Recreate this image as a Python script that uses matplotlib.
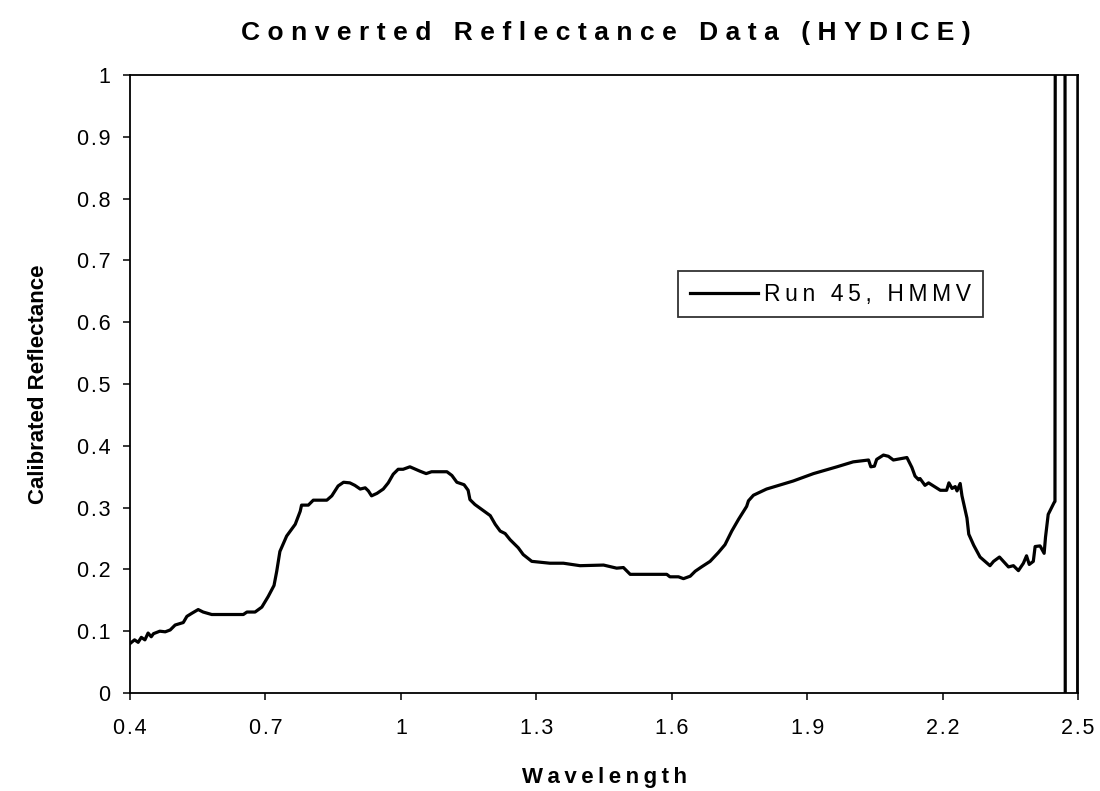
import matplotlib
matplotlib.use("Agg")
import matplotlib.pyplot as plt
from matplotlib.ticker import FuncFormatter

plt.rcParams['font.family'] = ['Liberation Sans', 'DejaVu Sans']

HAIR = '\u200a'
THIN = '\u2009'


def spaced(s, gap):
    # the scanned chart uses wide letter spacing
    return gap.join(s)


title = "Converted Reflectance Data (HYDICE)"
x_title = "Wavelength"
y_title = "Calibrated Reflectance"
series_name = "Run 45, HMMV"

x_ticks = [0.4, 0.7, 1.0, 1.3, 1.6, 1.9, 2.2, 2.5]
y_ticks = [0, 0.1, 0.2, 0.3, 0.4, 0.5, 0.6, 0.7, 0.8, 0.9, 1.0]

wavelength = [
    0.400, 0.410, 0.418, 0.425, 0.433, 0.440, 0.447, 0.452, 0.466, 0.478,
    0.489, 0.500, 0.518, 0.526, 0.537, 0.551, 0.562, 0.581, 0.651, 0.659,
    0.677, 0.692, 0.706, 0.719, 0.725, 0.732, 0.747, 0.766, 0.777, 0.780,
    0.795, 0.806, 0.836, 0.847, 0.861, 0.873, 0.887, 0.898, 0.910, 0.921,
    0.928, 0.935, 0.947, 0.961, 0.972, 0.983, 0.994, 1.005, 1.020, 1.042,
    1.056, 1.068, 1.102, 1.113, 1.124, 1.140, 1.149, 1.153, 1.164, 1.198,
    1.209, 1.220, 1.231, 1.242, 1.260, 1.271, 1.290, 1.330, 1.360, 1.397,
    1.449, 1.478, 1.493, 1.508, 1.589, 1.596, 1.615, 1.626, 1.641, 1.652,
    1.666, 1.685, 1.703, 1.718, 1.733, 1.748, 1.766, 1.770, 1.781, 1.810,
    1.869, 1.914, 1.966, 2.002, 2.036, 2.041, 2.049, 2.054, 2.069, 2.080,
    2.091, 2.106, 2.121, 2.132, 2.139, 2.147, 2.150, 2.161, 2.169, 2.180,
    2.195, 2.209, 2.214, 2.221, 2.228, 2.232, 2.239, 2.243, 2.254, 2.258,
    2.269, 2.283, 2.305, 2.313, 2.326, 2.346, 2.357, 2.368, 2.379, 2.386,
    2.392, 2.401, 2.405, 2.416, 2.425, 2.428, 2.434, 2.447, 2.449, 2.450,
    2.471, 2.472, 2.499, 2.500,
]
reflectance = [
    0.080, 0.086, 0.082, 0.090, 0.086, 0.097, 0.091, 0.096, 0.100, 0.099,
    0.102, 0.110, 0.114, 0.124, 0.129, 0.135, 0.131, 0.127, 0.127, 0.131,
    0.131, 0.139, 0.156, 0.174, 0.197, 0.229, 0.254, 0.273, 0.294, 0.304,
    0.304, 0.312, 0.312, 0.319, 0.335, 0.341, 0.340, 0.336, 0.330, 0.332,
    0.327, 0.319, 0.323, 0.330, 0.340, 0.354, 0.362, 0.362, 0.366, 0.359,
    0.355, 0.358, 0.358, 0.352, 0.341, 0.337, 0.328, 0.313, 0.305, 0.287,
    0.273, 0.262, 0.258, 0.248, 0.235, 0.224, 0.213, 0.210, 0.210, 0.206,
    0.207, 0.202, 0.203, 0.192, 0.192, 0.188, 0.188, 0.185, 0.189, 0.197,
    0.204, 0.213, 0.227, 0.240, 0.262, 0.281, 0.302, 0.311, 0.320, 0.330,
    0.343, 0.355, 0.366, 0.374, 0.377, 0.366, 0.367, 0.378, 0.385, 0.383,
    0.377, 0.379, 0.381, 0.365, 0.351, 0.345, 0.347, 0.336, 0.340, 0.335,
    0.328, 0.328, 0.340, 0.331, 0.334, 0.327, 0.339, 0.319, 0.283, 0.257,
    0.239, 0.220, 0.206, 0.213, 0.220, 0.204, 0.206, 0.198, 0.210, 0.222,
    0.208, 0.213, 0.237, 0.238, 0.226, 0.252, 0.289, 0.308, 0.310, 1.600,
    1.600, -0.600, -0.600, 1.600,
]

fig = plt.figure(figsize=(11, 7.91), dpi=100)
ax = fig.add_axes([0.1182, 0.1239, 0.8618, 0.7813])

ax.plot(wavelength, reflectance, color='black', lw=2.3,
        label=spaced(series_name, THIN))

ax.set_xlim(0.4, 2.5)
ax.set_ylim(0, 1)
ax.set_xticks(x_ticks)
ax.set_yticks(y_ticks)
fmt = FuncFormatter(lambda v, p: spaced(f"{v:g}", HAIR))
ax.xaxis.set_major_formatter(fmt)
ax.yaxis.set_major_formatter(fmt)
ax.tick_params(direction='out', length=5, width=1.1, labelsize=15.5)
ax.tick_params(axis='x', pad=13)
ax.tick_params(axis='y', pad=9)

for s in ax.spines.values():
    s.set_linewidth(1.3)

ax.set_xlabel(spaced(x_title, THIN), fontsize=16, fontweight='bold', labelpad=20)
ax.set_ylabel(y_title, fontsize=16, fontweight='bold', labelpad=20)
fig.suptitle(spaced(title, THIN + HAIR), x=0.551, y=0.958, va='center',
             fontsize=19, fontweight='bold')

leg = ax.legend(loc='center', bbox_to_anchor=(0.755, 0.628),
                bbox_transform=fig.transFigure, fontsize=16.5, frameon=True,
                fancybox=False, shadow=False, handlelength=3.0,
                handletextpad=0.26, borderpad=0.5)
leg.get_frame().set_edgecolor('black')
leg.get_frame().set_linewidth(1.3)

fig.savefig("out.png", dpi=100)
